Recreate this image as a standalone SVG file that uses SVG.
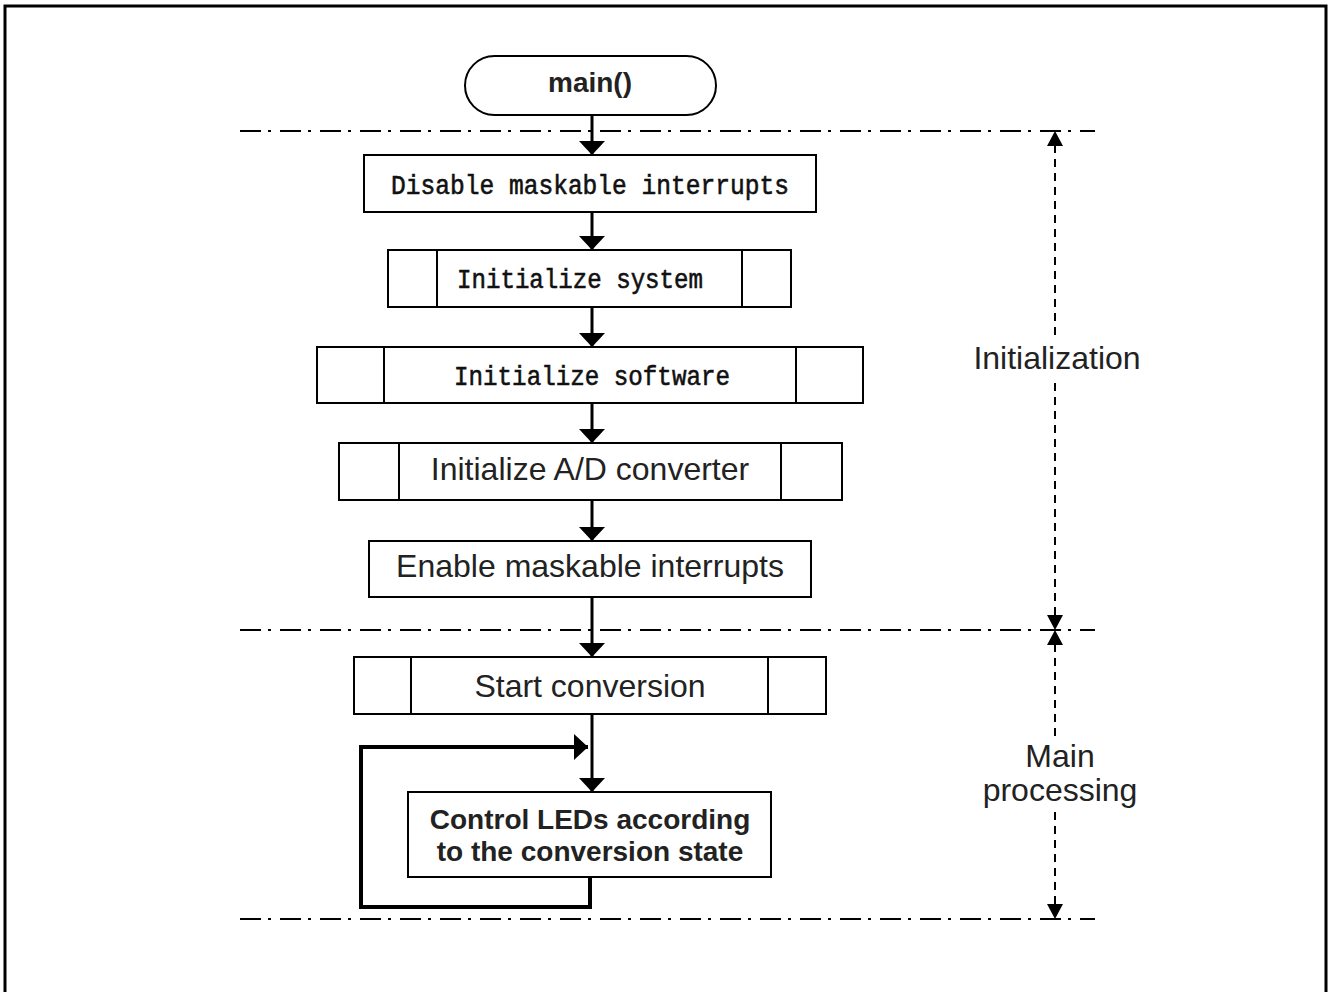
<svg xmlns="http://www.w3.org/2000/svg" width="1328" height="992" viewBox="0 0 1328 992">
<defs>
<style>
.box{fill:#fff;stroke:#000;stroke-width:2}
.ln{fill:none;stroke:#000;stroke-width:2}
.flow{fill:none;stroke:#000;stroke-width:3}
.dd{fill:none;stroke:#000;stroke-width:2;stroke-dasharray:21 7 3 9}
.dash{fill:none;stroke:#000;stroke-width:2;stroke-dasharray:8 6}
.mono{font-family:"Liberation Mono","DejaVu Sans Mono",monospace;font-size:28px;fill:#111;stroke:#111;stroke-width:0.6;text-anchor:middle}
.sans{font-family:"Liberation Sans",Arial,sans-serif;font-size:32px;fill:#222;text-anchor:middle}
.bold{font-family:"Liberation Sans",Arial,sans-serif;font-size:28px;font-weight:bold;fill:#222;text-anchor:middle}
</style>
<marker id="ah" viewBox="0 0 14 26" refX="14" refY="13" markerWidth="14" markerHeight="26" markerUnits="userSpaceOnUse" orient="auto">
<path d="M0,0 L14,13 L0,26 Z" fill="#000"/>
</marker>
</defs>
<rect x="0" y="0" width="1328" height="992" fill="#fff"/>
<path d="M5,992 V6 H1326 V992" fill="none" stroke="#000" stroke-width="3"/>

<g id="boundaries">
<line class="dd" x1="240" y1="131" x2="1095" y2="131"/>
<line class="dd" x1="240" y1="630" x2="1095" y2="630"/>
<line class="dd" x1="240" y1="919" x2="1095" y2="919"/>
<line class="dash" x1="1055" y1="145" x2="1055" y2="616"/>
<line class="dash" x1="1055" y1="644" x2="1055" y2="905"/>
<path d="M1055,131 L1047,146 L1063,146 Z" fill="#000"/>
<path d="M1055,630 L1047,615 L1063,615 Z" fill="#000"/>
<path d="M1055,630 L1047,645 L1063,645 Z" fill="#000"/>
<path d="M1055,919 L1047,904 L1063,904 Z" fill="#000"/>
</g>

<g id="connectors">
<line class="flow" x1="592" y1="115" x2="592" y2="155" marker-end="url(#ah)"/>
<line class="flow" x1="592" y1="212" x2="592" y2="250" marker-end="url(#ah)"/>
<line class="flow" x1="592" y1="307" x2="592" y2="347" marker-end="url(#ah)"/>
<line class="flow" x1="592" y1="403" x2="592" y2="443" marker-end="url(#ah)"/>
<line class="flow" x1="592" y1="500" x2="592" y2="541" marker-end="url(#ah)"/>
<line class="flow" x1="592" y1="597" x2="592" y2="657" marker-end="url(#ah)"/>
<line class="flow" x1="592" y1="714" x2="592" y2="792" marker-end="url(#ah)"/>
<path d="M590,877 V907 H361 V747 H588" fill="none" stroke="#000" stroke-width="4" marker-end="url(#ah)"/>
</g>

<g id="main">
<rect class="box" x="465" y="56" width="251" height="59" rx="29.5"/>
<text class="bold" x="590" y="92" font-size="32">main()</text>
</g>

<g id="disable">
<rect class="box" x="364" y="155" width="452" height="57"/>
<text class="mono" x="590" y="194" textLength="398" lengthAdjust="spacingAndGlyphs">Disable maskable interrupts</text>
</g>

<g id="initsys">
<rect class="box" x="388" y="250" width="403" height="57"/>
<line class="ln" x1="437" y1="250" x2="437" y2="307"/>
<line class="ln" x1="742" y1="250" x2="742" y2="307"/>
<text class="mono" x="580" y="288" textLength="246" lengthAdjust="spacingAndGlyphs">Initialize system</text>
</g>

<g id="initsw">
<rect class="box" x="317" y="347" width="546" height="56"/>
<line class="ln" x1="384" y1="347" x2="384" y2="403"/>
<line class="ln" x1="796" y1="347" x2="796" y2="403"/>
<text class="mono" x="592" y="385" textLength="276" lengthAdjust="spacingAndGlyphs">Initialize software</text>
</g>

<g id="initad">
<rect class="box" x="339" y="443" width="503" height="57"/>
<line class="ln" x1="399" y1="443" x2="399" y2="500"/>
<line class="ln" x1="781" y1="443" x2="781" y2="500"/>
<text class="sans" x="590" y="480">Initialize A/D converter</text>
</g>

<g id="enable">
<rect class="box" x="369" y="541" width="442" height="56"/>
<text class="sans" x="590" y="577">Enable maskable interrupts</text>
</g>

<g id="start">
<rect class="box" x="354" y="657" width="472" height="57"/>
<line class="ln" x1="411" y1="657" x2="411" y2="714"/>
<line class="ln" x1="768" y1="657" x2="768" y2="714"/>
<text class="sans" x="590" y="697">Start conversion</text>
</g>

<g id="control">
<rect class="box" x="408" y="792" width="363" height="85"/>
<text class="bold" x="590" y="829">Control LEDs according</text>
<text class="bold" x="590" y="861">to the conversion state</text>
</g>

<g id="labels">
<rect x="970" y="338" width="174" height="40" fill="#fff"/>
<text class="sans" x="1057" y="369">Initialization</text>
<rect x="980" y="738" width="162" height="72" fill="#fff"/>
<text class="sans" x="1060" y="767" font-size="31">Main</text>
<text class="sans" x="1060" y="801" font-size="31">processing</text>
</g>
</svg>
